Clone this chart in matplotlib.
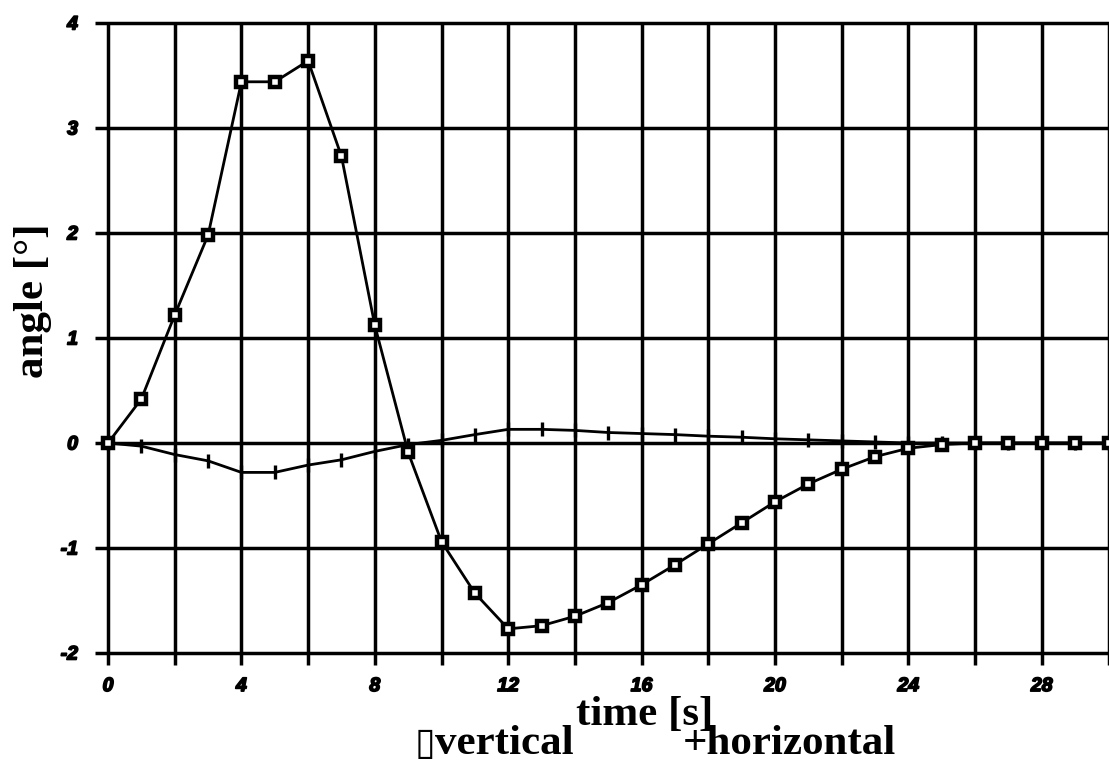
import matplotlib
matplotlib.use("Agg")
import matplotlib.pyplot as plt
import matplotlib.patheffects as pe

# ---- data ----
time_s = list(range(0, 31))
vertical = [0, 0.42, 1.22, 1.98, 3.44, 3.44, 3.64, 2.73, 1.12, -0.09,
            -0.94, -1.43, -1.77, -1.74, -1.65, -1.52, -1.35, -1.16, -0.96, -0.76,
            -0.56, -0.39, -0.25, -0.13, -0.05, -0.015, 0, 0, 0, 0, 0]
horizontal = [0, -0.03, -0.11, -0.17, -0.28, -0.28, -0.21, -0.16, -0.08, -0.015,
              0.025, 0.08, 0.13, 0.13, 0.12, 0.10, 0.09, 0.08, 0.065, 0.055,
              0.04, 0.03, 0.02, 0.01, 0, 0, 0, 0, 0, 0, 0]
x_ticks = [0, 4, 8, 12, 16, 20, 24, 28]
x_tick_labels = ["0", "4", "8", "12", "16", "20", "24", "28"]
y_ticks = [-2, -1, 0, 1, 2, 3, 4]
y_tick_labels = ["-2", "-1", "0", "1", "2", "3", "4"]
x_grid = list(range(0, 31, 2))

W, H = 1109, 761
fig = plt.figure(figsize=(W / 100, H / 100), dpi=100)

left_px, right_px = 94.7, 1108.5
top_px, bot_px = 17.75, 665.6
ax = fig.add_axes([left_px / W, 1 - bot_px / H, (right_px - left_px) / W, (bot_px - top_px) / H])
ax.set_xlim(-0.4, 30)
ax.set_ylim(-2.12, 4.05)
for s in ax.spines.values():
    s.set_visible(False)

grid_lw = 2.5
ax.hlines(y_ticks, -0.4, 30, colors="black", linewidth=grid_lw, zorder=1)
ax.vlines(x_grid, -2.11, 4, colors="black", linewidth=grid_lw, zorder=1)

ax.plot(time_s, horizontal, color="black", linewidth=2.0, marker="|",
        markersize=10, markeredgewidth=2.4, zorder=3, clip_on=False)
ax.plot(time_s, vertical, color="black", linewidth=2.0, marker="s",
        markersize=7.5, markeredgewidth=3.2, markerfacecolor="white",
        markeredgecolor="black", zorder=4, clip_on=True)

tick_font = dict(family="Liberation Sans", weight="bold", style="italic", size=14)
thick = [pe.withStroke(linewidth=1.2, foreground="black")]
ax.set_xticks(x_ticks)
ax.set_xticklabels(x_tick_labels, fontdict=tick_font)
ax.set_yticks(y_ticks)
ax.set_yticklabels(y_tick_labels, fontdict=tick_font)
for lab in ax.get_xticklabels() + ax.get_yticklabels():
    lab.set_path_effects(thick)
ax.tick_params(length=0)
ax.tick_params(axis="x", pad=9)
ax.tick_params(axis="y", pad=12)

serif = dict(family=["Liberation Serif", "DejaVu Serif"], weight="bold", size=31)
fig.text(645 / W, 1 - 725 / H, "time [s]", ha="center", va="baseline", **serif)
fig.text(33 / W, 1 - 301 / H, "angle [°]", ha="center", va="center", rotation=90, **serif)
fig.text(435 / W, 1 - 754 / H, "▯", ha="right", va="baseline",
         family=["DejaVu Sans"], size=27)
fig.text(435 / W, 1 - 754 / H, "vertical", ha="left", va="baseline", **serif)
fig.text(683 / W, 1 - 754 / H, "+horizontal", ha="left", va="baseline", **serif)

fig.savefig("out.png", dpi=100)
